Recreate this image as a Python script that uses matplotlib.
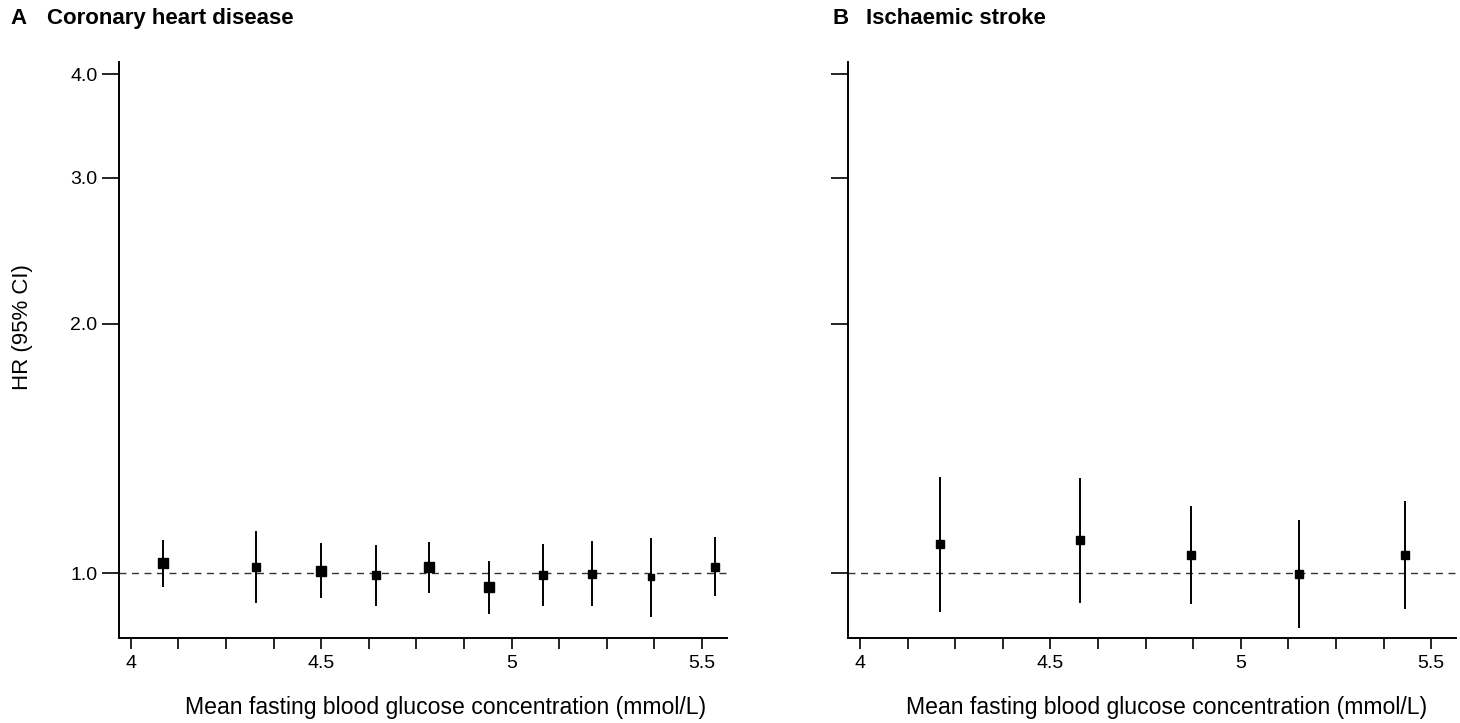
import matplotlib.pyplot as plt
from matplotlib.ticker import FixedLocator, FixedFormatter, NullLocator

plt.rcParams['font.family'] = ['Liberation Sans', 'DejaVu Sans']

# 冠心病 (A)
chd_x = [4.084, 4.330, 4.499, 4.643, 4.782, 4.942, 5.083, 5.210, 5.366, 5.534]
chd_hr = [1.030, 1.017, 1.008, 0.995, 1.018, 0.962, 0.995, 0.999, 0.989, 1.019]
chd_lo = [0.966, 0.923, 0.937, 0.917, 0.950, 0.896, 0.915, 0.915, 0.888, 0.942]
chd_hi = [1.094, 1.121, 1.084, 1.080, 1.089, 1.031, 1.081, 1.091, 1.100, 1.102]
chd_size = [7.3, 5.2, 6.5, 5.8, 7.0, 6.5, 5.8, 5.8, 4.8, 6.3]

# 缺血性卒中 (B)
str_x = [4.211, 4.577, 4.868, 5.154, 5.430]
str_hr = [1.085, 1.097, 1.052, 0.999, 1.054]
str_lo = [0.901, 0.924, 0.921, 0.862, 0.909]
str_hi = [1.303, 1.300, 1.202, 1.158, 1.220]
str_size = [5.2, 5.8, 5.8, 5.8, 5.8]

yticks = [1.0, 2.0, 3.0, 4.0]
ytick_labels = ['1.0', '2.0', '3.0', '4.0']
xticks = [4 + 0.125 * i for i in range(13)]
xtick_labels = ['4', '', '', '', '4.5', '', '', '', '5', '', '', '', '5.5']
xlabel = 'Mean fasting blood glucose concentration (mmol/L)'

fig = plt.figure(figsize=(14.6, 7.23), dpi=100)
ax1 = fig.add_axes([0.0815, 0.1176, 0.4165, 0.7971])
ax2 = fig.add_axes([0.5810, 0.1176, 0.4165, 0.7971])


def draw(ax, x, hr, lo, hi, size, show_ylabels, label_x):
    ax.set_yscale('log')
    ax.axhline(1.0, color='#333333', linestyle=(0, (5, 4)), linewidth=1.0, zorder=1)
    for xi, h, l, u, s in zip(x, hr, lo, hi, size):
        ax.plot([xi, xi], [l, u], color='black', linewidth=1.4, zorder=2)
        ax.plot(xi, h, marker='s', markersize=s, color='black', zorder=3)
    ax.set_xlim(3.969, 5.566)
    ax.set_ylim(0.836, 4.14)
    ax.yaxis.set_major_locator(FixedLocator(yticks))
    ax.yaxis.set_major_formatter(FixedFormatter(ytick_labels if show_ylabels else [''] * 4))
    ax.yaxis.set_minor_locator(NullLocator())
    ax.xaxis.set_major_locator(FixedLocator(xticks))
    ax.xaxis.set_major_formatter(FixedFormatter(xtick_labels))
    ax.tick_params(axis='y', length=12, width=1.2, pad=3.5, labelsize=14)
    ax.tick_params(axis='x', length=8, width=1.2, pad=4, labelsize=14)
    for side in ['top', 'right']:
        ax.spines[side].set_visible(False)
    for side in ['left', 'bottom']:
        ax.spines[side].set_linewidth(1.4)
    ax.set_xlabel(xlabel, fontsize=16.6)
    ax.xaxis.set_label_coords(label_x, -0.1)


draw(ax1, chd_x, chd_hr, chd_lo, chd_hi, chd_size, True, 0.537)
draw(ax2, str_x, str_hr, str_lo, str_hi, str_size, False, 0.523)

ax1.set_ylabel('HR (95% CI)', fontsize=16)
ax1.yaxis.set_label_coords(-0.141, 0.54)

fig.text(10 / 1460, 0.975, 'A', fontsize=16, fontweight='bold', va='center')
fig.text(47 / 1460, 0.975, 'Coronary heart disease', fontsize=16, fontweight='bold', va='center')
fig.text(832 / 1460, 0.975, 'B', fontsize=16, fontweight='bold', va='center')
fig.text(866 / 1460, 0.975, 'Ischaemic stroke', fontsize=16, fontweight='bold', va='center')

fig.savefig('out.png', dpi=100)
